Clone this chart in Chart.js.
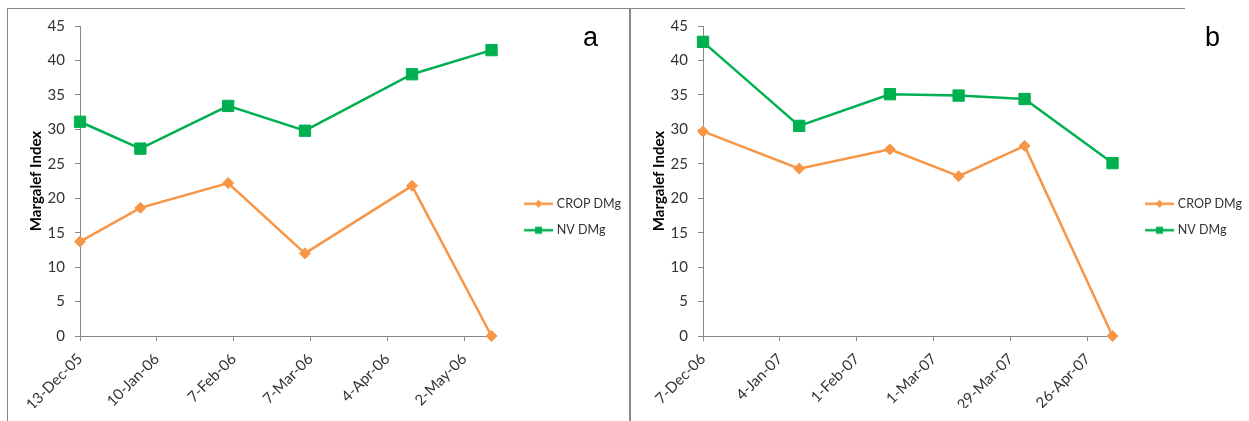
<!DOCTYPE html>
<html>
<head>
<meta charset="utf-8">
<script src="https://cdn.jsdelivr.net/npm/chart.js@4"></script>
<style>
  body { margin: 0; background: #fff; }
  #wrap { position: relative; width: 1249px; height: 421px; overflow: hidden; }
  .frame { position: absolute; border-color: #898989; border-style: solid; border-width: 0; }
  .box { position: absolute; top: 0; height: 421px; }
  .tag { position: absolute; font: 27px "Liberation Sans", Arial, sans-serif; line-height: 27px; color: #000; }
</style>
</head>
<body>
<div id="wrap">
  <div class="frame" style="left:7px;top:8px;width:621px;height:420px;border-left-width:1px;border-top-width:1px;border-right-width:2px;"></div>
  <div class="frame" style="left:631px;top:8px;width:554px;height:0;border-top-width:1px;"></div>
  <div class="box" style="left:0;width:628px;"><canvas id="grafA"></canvas></div>
  <div class="box" style="left:623px;width:626px;"><canvas id="grafB"></canvas></div>
  <div class="tag" style="left:583px;top:24px;">a</div>
  <div class="tag" style="left:1205px;top:24px;">b</div>
</div>
<script>
// dados do painel a (2005-2006)
var datasA = ['2005-12-13', '2006-01-04', '2006-02-05', '2006-03-05', '2006-04-13', '2006-05-12'];
var cropA = [13.7, 18.6, 22.2, 12.0, 21.8, 0];
var nvA = [31.1, 27.2, 33.4, 29.8, 38.0, 41.5];
var ticksA = ['2005-12-13', '2006-01-10', '2006-02-07', '2006-03-07', '2006-04-04', '2006-05-02'];

// dados do painel b (2006-2007)
var datasB = ['2006-12-07', '2007-01-11', '2007-02-13', '2007-03-10', '2007-04-03', '2007-05-05'];
var cropB = [29.7, 24.3, 27.1, 23.2, 27.6, 0];
var nvB = [42.7, 30.5, 35.1, 34.9, 34.4, 25.1];
var ticksB = ['2006-12-07', '2007-01-04', '2007-02-01', '2007-03-01', '2007-03-29', '2007-04-26'];

var nomes = ['CROP DMg', 'NV DMg'];
var yMax = 45;
var yPasso = 5;

var corCrop = '#F79646';
var corNv = '#00B050';
var corEixo = '#898989';
var meses = ['Jan', 'Feb', 'Mar', 'Apr', 'May', 'Jun', 'Jul', 'Aug', 'Sep', 'Oct', 'Nov', 'Dec'];

function dia(s) {
    var p = s.split('-');
    return Date.UTC(+p[0], +p[1] - 1, +p[2]) / 86400000;
}

function rotuloData(v) {
    var d = new Date(v * 86400000);
    return d.getUTCDate() + '-' + meses[d.getUTCMonth()] + '-' + String(d.getUTCFullYear()).slice(2);
}

// icone da legenda: linha com marcador
function iconeLegenda(cor, forma) {
    var c = document.createElement('canvas');
    c.width = 60;
    c.height = 14;
    var g = c.getContext('2d');
    g.strokeStyle = cor;
    g.lineWidth = 2.5;
    g.beginPath();
    g.moveTo(26, 7);
    g.lineTo(55, 7);
    g.stroke();
    g.fillStyle = cor;
    if (forma === 'diamond') {
        g.beginPath();
        g.moveTo(40.5, 3);
        g.lineTo(44.5, 7);
        g.lineTo(40.5, 11);
        g.lineTo(36.5, 7);
        g.closePath();
        g.fill();
    } else {
        g.fillRect(37, 3.5, 7, 7);
    }
    return c;
}

var icones = [iconeLegenda(corCrop, 'diamond'), iconeLegenda(corNv, 'square')];

function montaGrafico(id, datas, crop, nv, ticks) {
    var xs = datas.map(dia);
    var tickDias = ticks.map(dia);
    var ctx = document.getElementById(id);

    return new Chart(ctx, {
        type: 'line',
        data: {
            datasets: [
                {
                    label: nomes[0],
                    data: xs.map(function (x, i) { return { x: x, y: crop[i] }; }),
                    borderColor: corCrop,
                    backgroundColor: corCrop,
                    borderWidth: 2.5,
                    pointStyle: 'rectRot',
                    pointRadius: 5.5,
                    pointBorderWidth: 1,
                    tension: 0,
                    clip: false
                },
                {
                    label: nomes[1],
                    data: xs.map(function (x, i) { return { x: x, y: nv[i] }; }),
                    borderColor: corNv,
                    backgroundColor: corNv,
                    borderWidth: 2.5,
                    pointStyle: 'rect',
                    pointRadius: 8,
                    pointBorderWidth: 1,
                    tension: 0,
                    clip: false
                }
            ]
        },
        options: {
            responsive: true,
            maintainAspectRatio: false,
            animation: false,
            layout: {
                padding: { top: 26, right: -3, bottom: 13, left: 0 }
            },
            scales: {
                x: {
                    type: 'linear',
                    min: tickDias[0],
                    max: xs[xs.length - 1],
                    afterBuildTicks: function (s) {
                        s.ticks = tickDias.map(function (v) { return { value: v }; });
                    },
                    afterFit: function (s) { s.height = 72; },
                    grid: { display: true, drawOnChartArea: false, drawTicks: true, tickLength: 5, color: corEixo },
                    border: { display: true, color: corEixo, width: 1 },
                    ticks: {
                        autoSkip: false,
                        minRotation: 45,
                        maxRotation: 45,
                        padding: 9,
                        color: '#333',
                        font: { family: 'Lato', size: 15 },
                        callback: function (v) { return rotuloData(v); }
                    }
                },
                y: {
                    min: 0,
                    max: yMax,
                    afterFit: function (s) { s.width = 80; },
                    grid: { display: true, drawOnChartArea: false, drawTicks: true, tickLength: 5, color: corEixo },
                    border: { display: true, color: corEixo, width: 1 },
                    ticks: {
                        stepSize: yPasso,
                        padding: 10,
                        color: '#333',
                        font: { family: 'Lato', size: 15 }
                    },
                    title: {
                        display: true,
                        text: 'Margalef Index',
                        color: '#000',
                        padding: { top: 27, bottom: 0 },
                        font: { family: 'Lato', size: 15, weight: 'bold' }
                    }
                }
            },
            plugins: {
                legend: {
                    position: 'right',
                    labels: {
                        usePointStyle: true,
                        pointStyleWidth: 45,
                        padding: 14,
                        color: '#333',
                        font: { family: 'Lato', size: 12.5 },
                        generateLabels: function (chart) {
                            var itens = Chart.defaults.plugins.legend.labels.generateLabels(chart);
                            itens.forEach(function (it, i) { it.pointStyle = icones[i]; });
                            return itens;
                        }
                    }
                },
                tooltip: { enabled: false }
            }
        }
    });
}

var graficoA = montaGrafico('grafA', datasA, cropA, nvA, ticksA);
var graficoB = montaGrafico('grafB', datasB, cropB, nvB, ticksB);
</script>
</body>
</html>
